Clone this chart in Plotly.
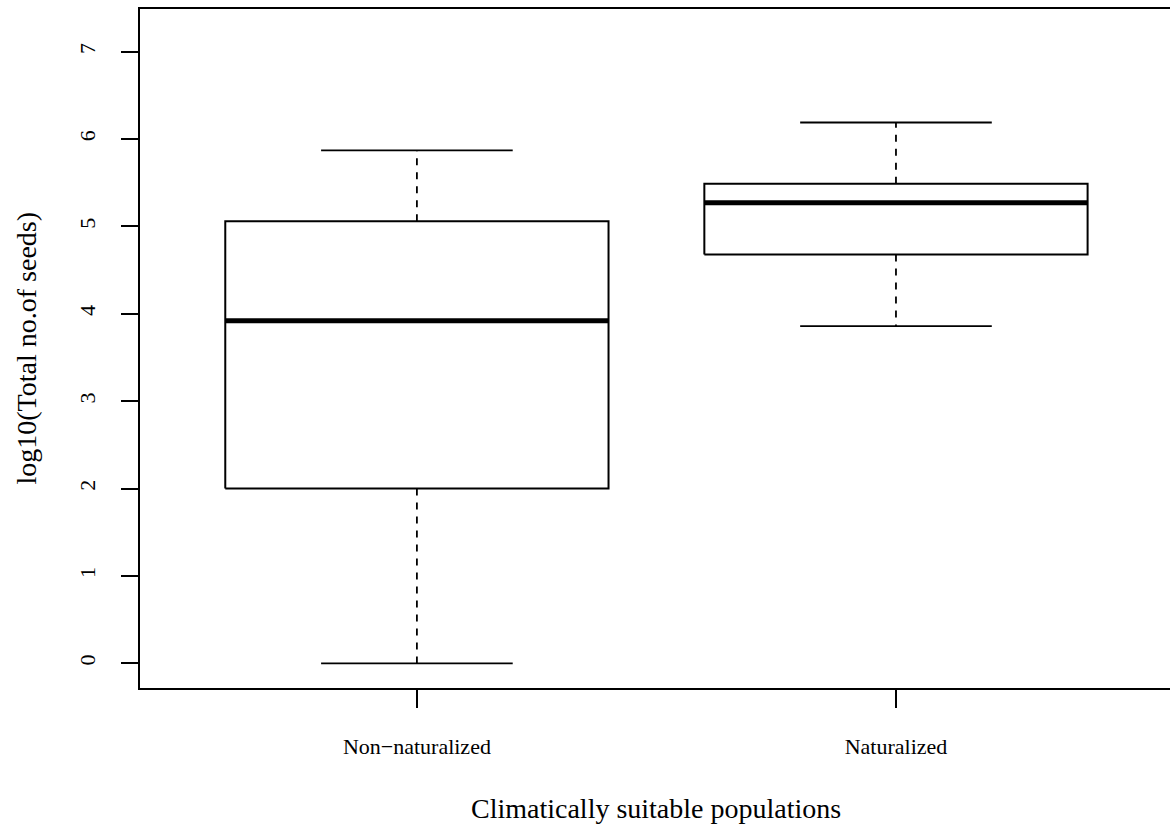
import plotly.graph_objects as go

# Five-number summaries of log10(total seeds) per population group
groups = ["Non\u2212naturalized", "Naturalized"]
lower_whisker = [0.0, 3.86]
q1 = [2.00, 4.68]
median = [3.92, 5.27]
q3 = [5.06, 5.49]
upper_whisker = [5.87, 6.19]

y_ticks = [0, 1, 2, 3, 4, 5, 6, 7]

FONT = "Liberation Serif"
BOX_HALF = 0.4
CAP_HALF = 0.2
X_RANGE = [0.422, 2.572]

fig = go.Figure()

for i, name in enumerate(groups):
    p = i + 1
    # box outline
    fig.add_trace(go.Scatter(
        x=[p - BOX_HALF, p + BOX_HALF, p + BOX_HALF, p - BOX_HALF, p - BOX_HALF],
        y=[q1[i], q1[i], q3[i], q3[i], q1[i]],
        mode="lines", line=dict(color="black", width=2),
        showlegend=False, hoverinfo="skip"))
    # dashed whiskers
    fig.add_trace(go.Scatter(
        x=[p, p, None, p, p],
        y=[q3[i], upper_whisker[i], None, q1[i], lower_whisker[i]],
        mode="lines", line=dict(color="black", width=1.8, dash="7px,7px"),
        showlegend=False, hoverinfo="skip"))
    # whisker caps
    fig.add_trace(go.Scatter(
        x=[p - CAP_HALF, p + CAP_HALF, None, p - CAP_HALF, p + CAP_HALF],
        y=[upper_whisker[i], upper_whisker[i], None, lower_whisker[i], lower_whisker[i]],
        mode="lines", line=dict(color="black", width=1.8),
        showlegend=False, hoverinfo="skip"))
    # thick median line
    fig.add_trace(go.Scatter(
        x=[p - BOX_HALF, p + BOX_HALF],
        y=[median[i], median[i]],
        mode="lines", line=dict(color="black", width=5),
        showlegend=False, hoverinfo="skip"))

fig.update_layout(
    width=1170, height=829,
    margin=dict(l=140, r=0, t=9, b=141),
    paper_bgcolor="white", plot_bgcolor="white",
    font=dict(family=FONT, color="black", size=22),
    showlegend=False,
    xaxis=dict(
        range=X_RANGE,
        tickmode="array", tickvals=[1, 2], ticktext=groups,
        ticks="outside", ticklen=18, tickwidth=1.5, tickcolor="black",
        ticklabelstandoff=20,
        showline=True, linecolor="black", linewidth=1.6, mirror=True,
        showgrid=False, zeroline=False,
        tickfont=dict(family=FONT, size=22, color="black"),
    ),
    yaxis=dict(
        range=[-0.283, 7.489],
        tickmode="array", tickvals=y_ticks, ticktext=[str(t) for t in y_ticks],
        tickangle=-90,
        ticks="outside", ticklen=17, tickwidth=1.5, tickcolor="black",
        ticklabelstandoff=17,
        showline=True, linecolor="black", linewidth=1.6, mirror=False,
        showgrid=False, zeroline=False,
        tickfont=dict(family=FONT, size=22, color="black"),
    ),
    annotations=[
        dict(text="Climatically suitable populations", xref="x", yref="paper",
             x=1.5, y=0, yshift=-120, xanchor="center", yanchor="middle",
             showarrow=False, font=dict(family=FONT, size=28, color="black")),
        dict(text="log10(Total no.of seeds)", xref="paper", yref="paper",
             x=0, xshift=-114, y=0.5, xanchor="center", yanchor="middle",
             textangle=-90, showarrow=False,
             font=dict(family=FONT, size=28, color="black")),
    ],
)

fig.write_html("out.html")
